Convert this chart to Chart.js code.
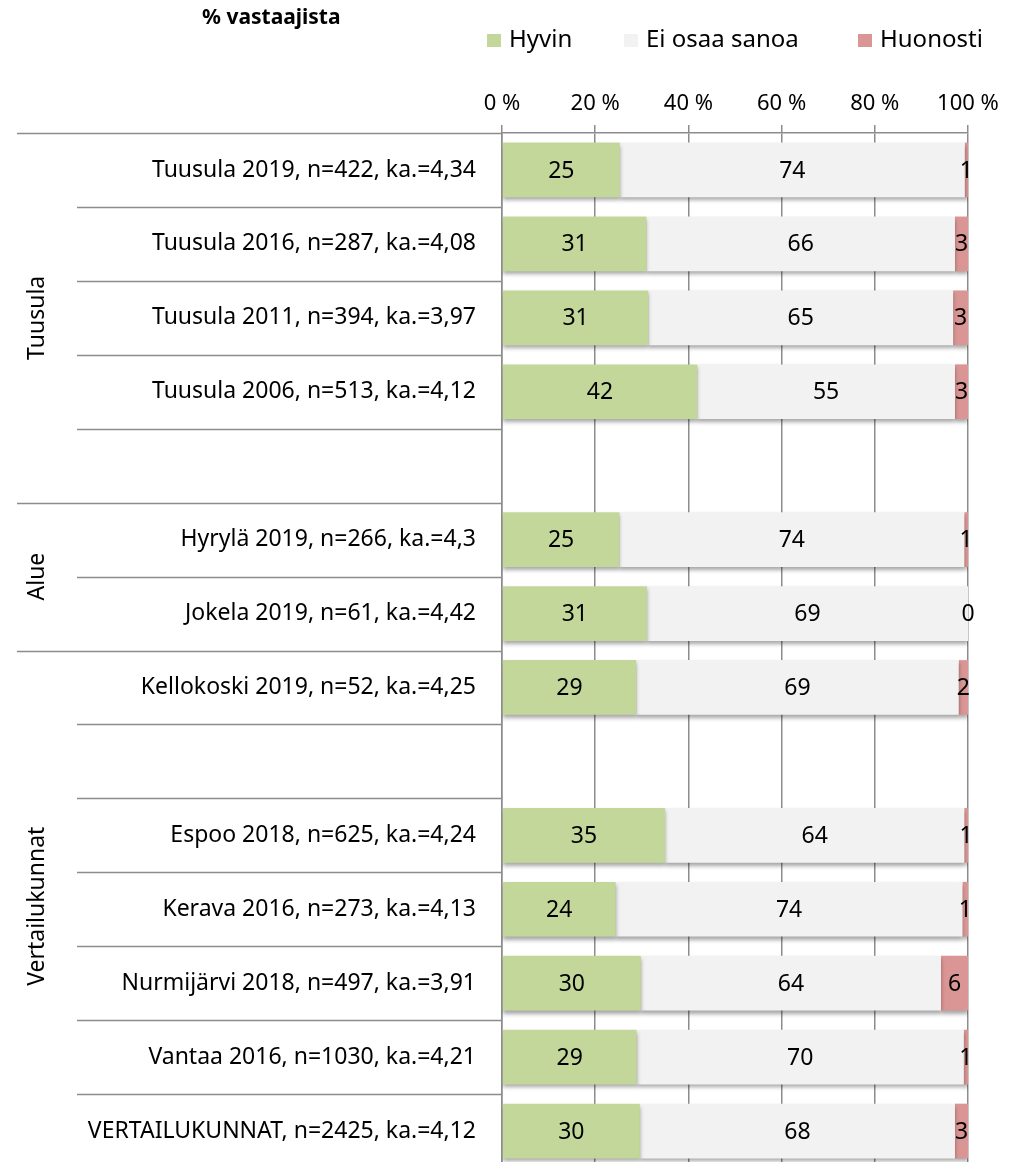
<!DOCTYPE html>
<html>
<head>
<meta charset="utf-8">
<script src="https://cdn.jsdelivr.net/npm/chart.js@4/dist/chart.umd.min.js"></script>
<style>
  html, body { margin: 0; padding: 0; background: #ffffff; overflow: hidden; }
  #wrap { width: 1023px; height: 1168px; position: relative; }
</style>
</head>
<body>
<div id="wrap"><canvas id="chart"></canvas></div>
<script>
// Rows of the chart (empty strings are spacer rows)
const rowLabels = [
  'Tuusula 2019, n=422, ka.=4,34',
  'Tuusula 2016, n=287, ka.=4,08',
  'Tuusula 2011, n=394, ka.=3,97',
  'Tuusula 2006, n=513, ka.=4,12',
  '',
  'Hyrylä 2019, n=266, ka.=4,3',
  'Jokela 2019, n=61, ka.=4,42',
  'Kellokoski 2019, n=52, ka.=4,25',
  '',
  'Espoo 2018, n=625, ka.=4,24',
  'Kerava 2016, n=273, ka.=4,13',
  'Nurmijärvi 2018, n=497, ka.=3,91',
  'Vantaa 2016, n=1030, ka.=4,21',
  'VERTAILUKUNNAT, n=2425, ka.=4,12'
];

// % of respondents (labels are rounded)
const hyvin    = [25.3, 31.0, 31.4, 41.9, null, 25.2, 31.1, 28.8, null, 35.0, 24.4, 29.8, 28.9, 29.6];
const eiOsaa   = [74.0, 66.2, 65.4, 55.3, null, 74.0, 68.9, 69.2, null, 64.2, 74.4, 64.4, 70.2, 67.6];
const huonosti = [0.7, 2.8, 3.2, 2.8, null, 0.8, 0.0, 2.0, null, 0.8, 1.2, 5.8, 0.9, 2.8];

const seriesNames = ['Hyvin', 'Ei osaa sanoa', 'Huonosti'];
const seriesColors = ['#c4d79b', '#f2f2f2', '#da9694'];

const xTicks = [0, 20, 40, 60, 80, 100];

// groups on the left: first row, last row, name
const groups = [
  { from: 0, to: 4, name: 'Tuusula' },
  { from: 5, to: 6, name: 'Alue' },
  { from: 7, to: 13, name: 'Vertailukunnat' }
];

const FONT = "'Noto Sans', sans-serif";
const lineGrey = '#8c8c8c';

const decorPlugin = {
  id: 'decor',
  beforeDatasetsDraw(chart) {
    const ctx = chart.ctx;
    ctx.save();
    ctx.shadowColor = 'rgba(0,0,0,0.35)';
    ctx.shadowBlur = 4;
    ctx.shadowOffsetY = 3;
  },
  afterDatasetsDraw(chart) {
    const ctx = chart.ctx;
    ctx.restore();
    const area = chart.chartArea;
    const y = chart.scales.y;

    // data labels
    ctx.save();
    ctx.fillStyle = '#000';
    ctx.font = '23px ' + FONT;
    ctx.textAlign = 'center';
    ctx.textBaseline = 'middle';
    chart.data.datasets.forEach((ds, di) => {
      const meta = chart.getDatasetMeta(di);
      meta.data.forEach((el, i) => {
        const v = ds.data[i];
        if (v === null || v === undefined) return;
        const cx = (el.x + el.base) / 2;
        ctx.fillText(String(Math.round(v)), cx, el.y + 1);
      });
    });
    ctx.restore();

    // separators on the left
    const n = rowLabels.length;
    const step = (y.getPixelForValue(n - 1) - y.getPixelForValue(0)) / (n - 1);
    const groupStarts = groups.map(g => g.from);
    ctx.save();
    ctx.strokeStyle = lineGrey;
    ctx.lineWidth = 1.5;
    for (let i = 0; i <= n; i++) {
      const py = Math.round(y.getPixelForValue(0) + (i - 0.5) * step) + 0.5;
      const x0 = groupStarts.includes(i) ? 17 : 77;
      ctx.beginPath();
      ctx.moveTo(x0, py);
      ctx.lineTo(area.left, py);
      ctx.stroke();
    }
    ctx.restore();

    // group names, rotated
    ctx.save();
    ctx.fillStyle = '#000';
    ctx.font = '23px ' + FONT;
    ctx.textAlign = 'center';
    ctx.textBaseline = 'middle';
    groups.forEach(g => {
      const top = y.getPixelForValue(g.from) - step / 2;
      const bottom = Math.min(y.getPixelForValue(g.to) + step / 2, 1162);
      ctx.save();
      ctx.translate(37, (top + bottom) / 2);
      ctx.rotate(-Math.PI / 2);
      ctx.fillText(g.name, 0, 0);
      ctx.restore();
    });
    ctx.restore();

    // title
    ctx.save();
    ctx.fillStyle = '#000';
    ctx.font = 'bold 21px ' + FONT;
    ctx.textAlign = 'left';
    ctx.textBaseline = 'middle';
    ctx.fillText('% vastaajista', 202, 18);
    ctx.restore();

    // legend
    ctx.save();
    ctx.font = '24px ' + FONT;
    ctx.textBaseline = 'middle';
    const legendX = [487, 624, 858];
    seriesNames.forEach((name, i) => {
      ctx.fillStyle = seriesColors[i];
      ctx.fillRect(legendX[i], 34, 14, 13);
      ctx.fillStyle = '#000';
      ctx.fillText(name, legendX[i] + 22, 40);
    });
    ctx.restore();
  }
};

const makeSet = (label, data, color) => ({
  label: label,
  data: data,
  backgroundColor: color,
  borderWidth: 0,
  barPercentage: 0.74,
  categoryPercentage: 1.0
});

new Chart(document.getElementById('chart'), {
  type: 'bar',
  data: {
    labels: rowLabels,
    datasets: [
      makeSet(seriesNames[0], hyvin, seriesColors[0]),
      makeSet(seriesNames[1], eiOsaa, seriesColors[1]),
      makeSet(seriesNames[2], huonosti, seriesColors[2])
    ]
  },
  options: {
    indexAxis: 'y',
    responsive: true,
    maintainAspectRatio: false,
    animation: false,
    layout: { autoPadding: false, padding: { left: 0, right: 55, top: 0, bottom: 0 } },
    plugins: {
      legend: { display: false },
      tooltip: { enabled: false }
    },
    scales: {
      x: {
        position: 'top',
        stacked: true,
        min: 0,
        max: 100,
        afterFit: (scale) => { scale.height = 133; },
        afterBuildTicks: (scale) => { scale.ticks = xTicks.map(v => ({ value: v })); },
        grid: {
          color: lineGrey,
          lineWidth: 1.5,
          tickLength: 8,
          drawOnChartArea: true
        },
        border: { display: true, color: lineGrey, width: 1.5 },
        ticks: {
          color: '#000',
          padding: 8,
          font: { family: FONT, size: 22 },
          callback: (v) => v + ' %'
        }
      },
      y: {
        stacked: true,
        afterFit: (scale) => {
          scale.width = 502;
          // keep the rows filling the canvas height
          scale.paddingTop = 0;
          scale.paddingBottom = 0;
        },
        grid: { display: false, drawTicks: false },
        border: { display: true, color: lineGrey, width: 1.5 },
        ticks: {
          color: '#000',
          padding: 26,
          autoSkip: false,
          font: { family: FONT, size: 23 }
        }
      }
    }
  },
  plugins: [decorPlugin]
});
</script>
</body>
</html>
